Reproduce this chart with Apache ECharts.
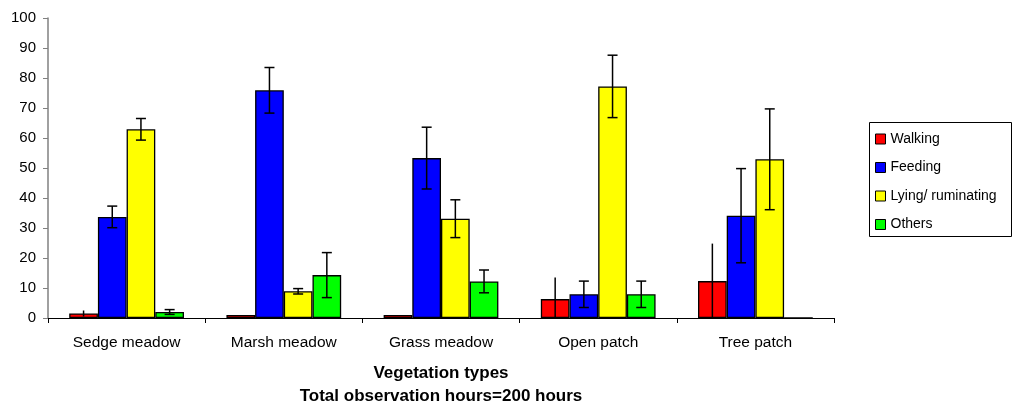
<!DOCTYPE html>
<html>
<head>
<meta charset="utf-8">
<script src="https://cdn.jsdelivr.net/npm/echarts@6/dist/echarts.min.js"></script>
<style>
  html, body { margin: 0; padding: 0; background: #fff; }
  #chart { width: 1015px; height: 407px; }
</style>
</head>
<body>
<div id="chart"></div>
<script>
const categories = ["Sedge meadow", "Marsh meadow", "Grass meadow", "Open patch", "Tree patch"];
const seriesNames = ["Walking", "Feeding", "Lying/ ruminating", "Others"];
const colors = ["#ff0000", "#0000ff", "#ffff00", "#00ff00"];

const walking = [1.5, 1.0, 1.0, 6.3, 12.3];
const feeding = [33.7, 75.9, 53.3, 7.9, 34.1];
const lying = [62.9, 8.9, 33.1, 77.2, 52.9];
const others = [2.0, 14.3, 12.2, 7.9, 0];

const walkingErr = [1.0, 0, 0, 7.2, 12.5];
const feedingErr = [3.6, 7.6, 10.3, 4.4, 15.7];
const lyingErr = [3.6, 0.9, 6.3, 10.4, 16.8];
const othersErr = [0.8, 7.5, 3.8, 4.4, 0];

const yTicks = [0, 10, 20, 30, 40, 50, 60, 70, 80, 90, 100];

const values = [walking, feeding, lying, others];
const errors = [walkingErr, feedingErr, lyingErr, othersErr];
const capWidths = [0, 10, 10, 10];
const gapRatio = 0.27;

const chart = echarts.init(document.getElementById("chart"));

const barSeries = seriesNames.map((name, i) => ({
  name: name,
  type: "bar",
  data: values[i],
  barGap: 0,
  barCategoryGap: "27%",
  itemStyle: { color: colors[i], borderColor: "#000", borderWidth: 1.3 },
  emphasis: { disabled: true },
  z: 2
}));

// error bars drawn over each bar, same offsets as the grouped bars
const errSeries = seriesNames.map((name, i) => ({
  type: "custom",
  z: 5,
  silent: true,
  data: values[i].map((v, c) => [c, v, errors[i][c]]),
  renderItem: function (params, api) {
    const c = api.value(0);
    const v = api.value(1);
    const e = api.value(2);
    if (!e) return null;
    const band = api.size([1, 0])[0];
    const barW = band * (1 - gapRatio) / 4;
    const center = api.coord([c, 0])[0];
    const x = center - band * (1 - gapRatio) / 2 + barW * (i + 0.5);
    const yTop = api.coord([c, v + e])[1];
    const yBot = api.coord([c, Math.max(0, v - e)])[1];
    const style = { stroke: "#000", lineWidth: 1.5 };
    const kids = [
      { type: "line", shape: { x1: x, y1: yTop, x2: x, y2: yBot }, style: style }
    ];
    const cw = capWidths[i] / 2;
    if (cw > 0) {
      kids.push({ type: "line", shape: { x1: x - cw, y1: yTop, x2: x + cw, y2: yTop }, style: style });
      kids.push({ type: "line", shape: { x1: x - cw, y1: yBot, x2: x + cw, y2: yBot }, style: style });
    }
    return { type: "group", children: kids };
  }
}));

const option = {
  animation: false,
  textStyle: { fontFamily: "Liberation Sans, Arial, sans-serif" },
  grid: { left: 48, right: 181, top: 18, bottom: 89, outerBoundsMode: "none" },
  legend: {
    data: seriesNames,
    orient: "vertical",
    left: 870,
    top: 127,
    itemWidth: 10,
    itemHeight: 10,
    itemGap: 14.5,
    itemTextGap: 7,
    icon: "rect",
    itemStyle: { borderColor: "#000", borderWidth: 1 },
    textStyle: { fontSize: 14, color: "#000", lineHeight: 14 },
    selectedMode: false
  },
  graphic: [{
    type: "rect",
    left: 867,
    top: 120,
    shape: { width: 142, height: 114 },
    style: { fill: "none", stroke: "#000", lineWidth: 1 },
    z: 0
  }],
  xAxis: {
    type: "category",
    data: categories,
    axisLine: { lineStyle: { color: "#000", width: 1 } },
    axisTick: { show: true, length: 5, lineStyle: { color: "#000" } },
    axisLabel: { fontSize: 15.5, color: "#000", margin: 17 },
    name: "Vegetation types\nTotal observation hours=200 hours",
    nameLocation: "middle",
    nameGap: 44,
    nameTextStyle: { fontSize: 17, fontWeight: "bold", color: "#000", lineHeight: 23 }
  },
  yAxis: {
    type: "value",
    min: yTicks[0],
    max: yTicks[yTicks.length - 1],
    interval: 10,
    splitLine: { show: false },
    axisLine: { show: true, lineStyle: { color: "#808080", width: 1.5 } },
    axisTick: { show: true, length: 5, lineStyle: { color: "#808080" } },
    axisLabel: { fontSize: 15, color: "#000", margin: 12 }
  },
  series: barSeries.concat(errSeries)
};

chart.setOption(option);
</script>
</body>
</html>
